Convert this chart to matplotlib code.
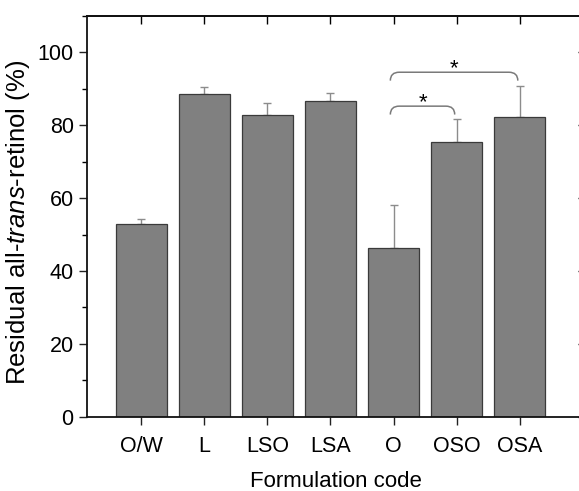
#!/usr/bin/env python3
import matplotlib
matplotlib.use("Agg")
import matplotlib.pyplot as plt
import numpy as np
from matplotlib.path import Path
from matplotlib.patches import PathPatch
from matplotlib.ticker import MultipleLocator

# residual all-trans-retinol (%) per formulation
codes = ["O/W", "L", "LSO", "LSA", "O", "OSO", "OSA"]
residual = [52.9, 88.5, 82.8, 86.5, 46.2, 75.5, 82.1]
sd = [1.4, 1.9, 3.4, 2.2, 11.9, 6.3, 8.7]

# significance brackets: (left index, right index, level, label)
brackets = [(4, 5, 85.2, "*"), (4, 6, 94.5, "*")]


def draw_bracket(ax, x0, x1, y, label, drop=2.3, r=0.14):
    # open bracket with rounded corners, ends pointing down
    verts = [
        (x0, y - drop), (x0, y), (x0 + r, y),
        (x1 - r, y),
        (x1, y), (x1, y - drop),
    ]
    kinds = [Path.MOVETO, Path.CURVE3, Path.CURVE3,
             Path.LINETO,
             Path.CURVE3, Path.CURVE3]
    ax.add_patch(PathPatch(Path(verts, kinds), facecolor="none",
                           edgecolor="#7a7a7a", linewidth=1.1))
    ax.text((x0 + x1) / 2, y - 2.0, label, ha="center", va="bottom",
            fontsize=16)


def main() -> None:
    plt.rcParams["font.family"] = ["Liberation Sans", "DejaVu Sans"]
    plt.rcParams["mathtext.fontset"] = "custom"
    plt.rcParams["mathtext.rm"] = "Liberation Sans"
    plt.rcParams["mathtext.it"] = "Liberation Sans:italic"

    fig = plt.figure(figsize=(5.79, 4.91), dpi=100)
    ax = fig.add_axes([0.150, 0.151, 0.862, 0.817])

    x = np.arange(len(codes))
    ax.bar(x, residual, width=0.81, color="#808080", edgecolor="#3a3a3a",
           linewidth=0.9, zorder=2)
    ax.errorbar(x, residual, yerr=[np.zeros(len(sd)), sd], fmt="none",
                ecolor="#8c8c8c", elinewidth=1.0, capsize=3, capthick=1.0,
                zorder=1)

    for i0, i1, lvl, lab in brackets:
        draw_bracket(ax, x[i0] - 0.05, x[i1] - 0.03, lvl, lab)

    ax.set_xlim(-0.86, 7.05)
    ax.set_ylim(0, 110)
    ax.set_xticks(x)
    ax.set_xticklabels(codes)
    ax.set_yticks([0, 20, 40, 60, 80, 100])
    ax.yaxis.set_minor_locator(MultipleLocator(10))

    ax.tick_params(axis="both", which="major", labelsize=15.5, width=1.0,
                   length=6, color="#222222", direction="out")
    ax.tick_params(axis="x", which="major", pad=8)
    ax.tick_params(axis="y", which="minor", width=1.0, length=3.5,
                   direction="out")

    # inward ticks on top and right, like the original frame
    top = ax.secondary_xaxis("top")
    top.set_xticks(x)
    top.tick_params(direction="in", length=6, width=1.0, labeltop=False)
    right = ax.secondary_yaxis("right")
    right.set_yticks([0, 20, 40, 60, 80, 100])
    right.yaxis.set_minor_locator(MultipleLocator(10))
    right.tick_params(which="major", direction="in", length=6, width=1.0,
                      labelright=False)
    right.tick_params(which="minor", direction="in", length=3.5, width=1.0)

    for a in (ax, top, right):
        for s in a.spines.values():
            s.set_linewidth(1.3)
            s.set_color("#111111")

    ax.set_xlabel("Formulation code", fontsize=16)
    ax.xaxis.set_label_coords(0.5, -0.135)
    ax.set_ylabel("Residual all-$\\it{trans}$-retinol (%)", fontsize=18.5)
    ax.yaxis.set_label_coords(-0.110, 0.486)

    fig.savefig("out.png", dpi=100)


if __name__ == "__main__":
    main()
